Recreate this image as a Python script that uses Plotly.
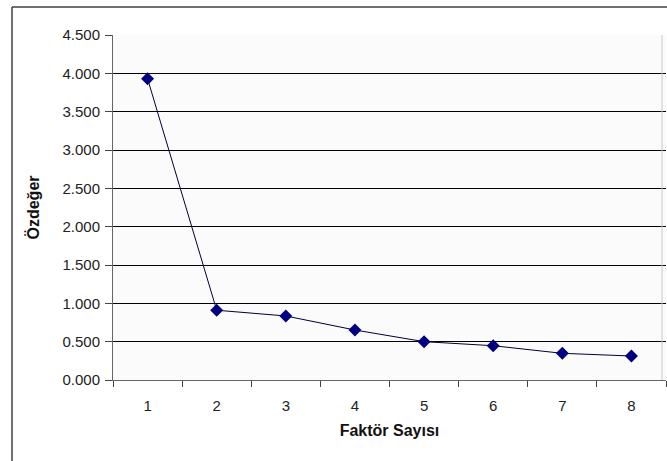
import plotly.graph_objects as go

# Scree plot: eigenvalue per factor
faktor = [1, 2, 3, 4, 5, 6, 7, 8]
ozdeger = [3.93, 0.91, 0.835, 0.652, 0.50, 0.447, 0.348, 0.313]
y_ticks = [0.0, 0.5, 1.0, 1.5, 2.0, 2.5, 3.0, 3.5, 4.0, 4.5]

font_family = "Liberation Sans, Arial, sans-serif"

fig = go.Figure()
fig.add_trace(go.Scatter(
    x=faktor, y=ozdeger, mode="lines+markers",
    line=dict(color="#000033", width=1),
    marker=dict(symbol="diamond", size=10, color="#000080"),
    showlegend=False,
))

fig.update_layout(
    width=667, height=461,
    margin=dict(l=113, r=1, t=35, b=81),
    paper_bgcolor="white",
    plot_bgcolor="#fbfbfb",
    font=dict(family=font_family, size=15, color="#222"),
    xaxis=dict(
        range=[0.5, 8.5], tickvals=faktor, ticktext=[str(v) for v in faktor],
        ticks="", showgrid=False, zeroline=False,
        showline=True, linecolor="#666", linewidth=1,
        minor=dict(tickvals=[v + 0.5 for v in [0] + faktor], ticks="outside",
                   ticklen=6, tickcolor="#444", showgrid=False),
        ticklabelstandoff=12,
        title=dict(text="<b>Faktör Sayısı</b>", font=dict(size=16, color="#111"),
                   standoff=11),
    ),
    yaxis=dict(
        range=[0, 4.5], tickvals=y_ticks, tickformat=".3f",
        ticks="outside", ticklen=7, tickcolor="#444",
        showgrid=True, gridcolor="#000", gridwidth=1,
        zeroline=False, showline=True, linecolor="#666", linewidth=1,
        ticklabelstandoff=2,
        title=dict(text="<b>Özdeğer</b>", font=dict(size=16, color="#111"),
                   standoff=18),
    ),
)

# Chart frame
fig.add_shape(type="line", xref="paper", yref="paper",
              x0=-113/553 + 12/553, x1=1.02, y0=1 + 28/345, y1=1 + 28/345,
              line=dict(color="#404040", width=1.5))
fig.add_shape(type="line", xref="paper", yref="paper",
              x0=-113/553 + 12/553, x1=-113/553 + 12/553, y0=-0.3, y1=1 + 28/345,
              line=dict(color="#404040", width=1.5))
# Plot area border on the right
fig.add_shape(type="line", xref="paper", yref="paper",
              x0=1 - 4/553, x1=1 - 4/553, y0=0, y1=1,
              line=dict(color="#c8c8c8", width=1))

fig.write_html("out.html")
